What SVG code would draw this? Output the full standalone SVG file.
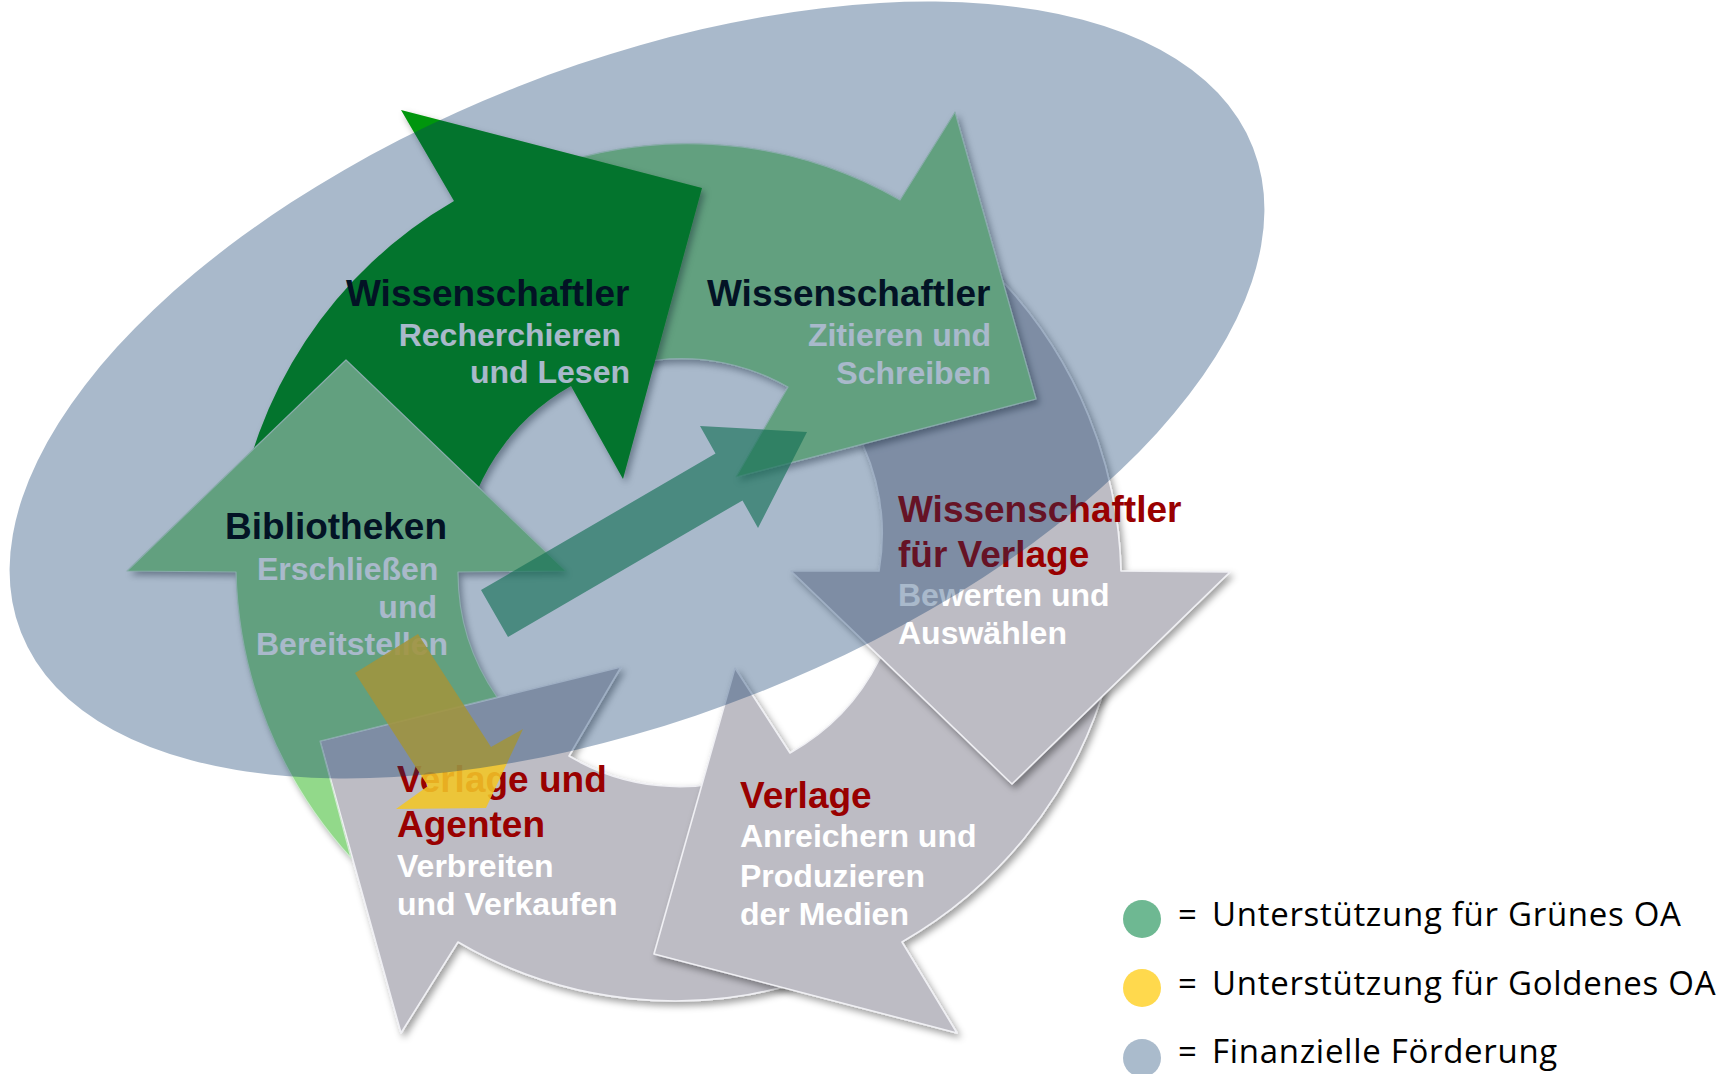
<svg xmlns="http://www.w3.org/2000/svg" width="1723" height="1074" viewBox="0 0 1723 1074">
<defs>
<filter id="sh" x="-15%" y="-15%" width="140%" height="140%">
<feDropShadow dx="3" dy="4" stdDeviation="3.5" flood-color="#000" flood-opacity="0.38"/>
</filter>
<filter id="blur" x="-15%" y="-15%" width="140%" height="140%">
<feGaussianBlur stdDeviation="3.5"/>
</filter>
</defs>
<style>
.gray{fill:#BDBCC4;stroke:#F0F0F4;stroke-width:1.6;stroke-linejoin:round}
.lg{fill:#92D98A;stroke:#CFEBCF;stroke-width:1.2;stroke-linejoin:round}
.dg{fill:#00960A}
.t{font-family:"Liberation Sans",Arial,sans-serif;font-weight:bold}
.h{font-size:37px}
.s{font-size:32px}
.blk{fill:#000}
.wht{fill:#fff}
.red{fill:#990000}
.leg{font-family:"Open Sans","Liberation Sans",sans-serif;font-size:33px;fill:#000;letter-spacing:0.7px}
</style>
<rect width="1723" height="1074" fill="#fff"/>

<g id="lg-shadow" transform="translate(3,4)" opacity="0.4" filter="url(#blur)">
<path fill="#000" d="M346,360 L566,571 L458,572 A218,218 0 0 0 497,697 L320,741 L351,858 A440,440 0 0 1 236,572 L127,571 Z"/>
</g>

<g id="node-verlage-agenten">
<path class="gray" filter="url(#sh)" d="M320,741 L621,667 L569,756 A215,215 0 0 0 752,774 L810,979 A428,428 0 0 1 458,942 L401,1033 Z"/>
<text class="t h red" x="397" y="792">Verlage und</text>
<text class="t h red" x="397" y="837">Agenten</text>
<text class="t s wht" x="397" y="877">Verbreiten</text>
<text class="t s wht" x="397" y="915">und Verkaufen</text>
</g>

<g id="node-verlage">
<path class="gray" filter="url(#sh)" d="M654,954 L735,668 L790,753 A218,218 0 0 0 879,660 L900,625 L1112,635 L1101,699 A440,440 0 0 1 902,942 L957,1033 Z"/>
<text class="t h red" x="740" y="808">Verlage</text>
<text class="t s wht" x="740" y="847">Anreichern und</text>
<text class="t s wht" x="740" y="887">Produzieren</text>
<text class="t s wht" x="740" y="925">der Medien</text>
</g>

<g id="node-wissenschaftler-verlage">
<path class="gray" filter="url(#sh)" d="M1012,784 L791,571 L879,571 A218,218 0 0 0 863,445 L840,400 L960,220 L1003,282 A440,440 0 0 1 1121,571 L1230,572 Z"/>
<text class="t h red" x="898" y="522">Wissenschaftler</text>
<text class="t h red" x="898" y="567">für Verlage</text>
<text class="t s wht" x="898" y="606">Bewerten und</text>
<text class="t s wht" x="898" y="644">Auswählen</text>
</g>

<g id="node-wissenschaftler-zitieren">
<path class="lg" filter="url(#sh)" d="M1036,399 L736,477 L788,387 A214,214 0 0 0 657,360 L600,372 L520,178 A427,427 0 0 1 900,200 L955,112 Z"/>
<text class="t h blk" x="707" y="306">Wissenschaftler</text>
<text class="t s wht" x="991" y="346" text-anchor="end">Zitieren und</text>
<text class="t s wht" x="991" y="384" text-anchor="end">Schreiben</text>
</g>

<g id="node-wissenschaftler-recherchieren">
<path class="dg" filter="url(#sh)" d="M401,110 L702,188 L623,479 L571,386 A218,218 0 0 0 461,553 L235,533 A445,445 0 0 1 454,201 Z"/>
<text class="t h blk" x="346" y="306">Wissenschaftler</text>
<text class="t s wht" x="621" y="346" text-anchor="end">Recherchieren</text>
<text class="t s wht" x="630" y="383" text-anchor="end">und Lesen</text>
</g>

<g id="node-bibliotheken">
<path class="lg" d="M346,360 L566,571 L458,572 A218,218 0 0 0 497,697 L320,741 L351,858 A440,440 0 0 1 236,572 L127,571 Z"/>
<text class="t h blk" x="225" y="539">Bibliotheken</text>
<text class="t s wht" x="257" y="580">Erschließen</text>
<text class="t s wht" x="437" y="618" text-anchor="end">und</text>
<text class="t s wht" x="256" y="655">Bereitstellen</text>
</g>

<g id="connectors">
<polygon fill="#1B8E4B" fill-opacity="0.64" points="481,590 715.5,453.6 700,426 807,432 758,528 742.5,500.4 508,637"/>
<polygon fill="#F2C626" fill-opacity="0.88" points="355,673 418,634 491,747 523,729 486,808 396,809 428,786"/>
</g>

<g id="node-finanzielle-foerderung">
<ellipse cx="637" cy="390" rx="662" ry="326" transform="rotate(-21.5 637 390)" fill="#0A376B" fill-opacity="0.35"/>
</g>

<g id="legend">
<circle cx="1142" cy="919" r="19" fill="#6EB892"/>
<text class="leg" x="1178" y="926">=</text>
<text class="leg" x="1212" y="926">Unterstützung für Grünes OA</text>
<circle cx="1142" cy="988" r="19" fill="#FFD94D"/>
<text class="leg" x="1178" y="995">=</text>
<text class="leg" x="1212" y="995">Unterstützung für Goldenes OA</text>
<circle cx="1142" cy="1058" r="19" fill="#AABBCC"/>
<text class="leg" x="1178" y="1063">=</text>
<text class="leg" x="1212" y="1063">Finanzielle Förderung</text>
</g>
</svg>
